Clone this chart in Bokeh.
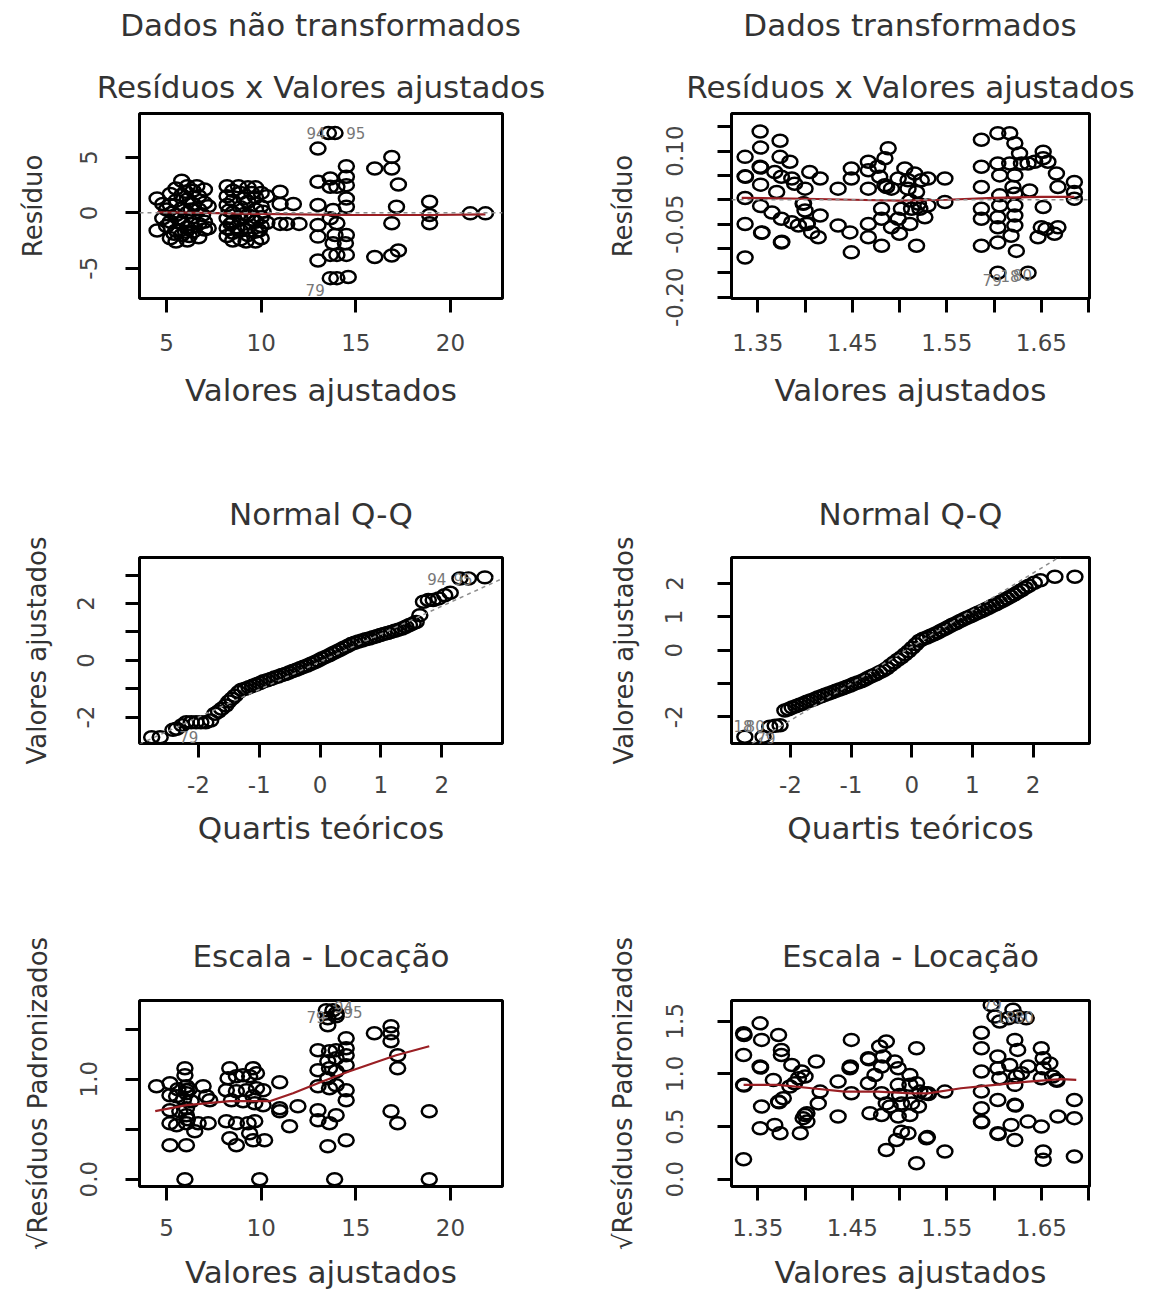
from bokeh.plotting import figure
from bokeh.models import Range1d, FixedTicker, Div, Span
from bokeh.layouts import column, row
from bokeh.embed import file_html
from bokeh.resources import INLINE
from bokeh.core.properties import value

FONT = "DejaVu Sans"

# ---------------- data ----------------
header_left = "Dados não transformados"
header_right = "Dados transformados"

# Panel 1: residuals vs fitted (untransformed)
rv1_points = [
    (4.5, 1.3), (4.5, -1.6), (5.0, 0.3), (5.0, -1.2), (5.2, 1.7), (5.2, 0.7), (5.2, -0.8), (5.2, -2.3),
    (5.5, 2.2), (5.5, 1.1), (5.5, -0.2), (5.5, -1.6), (5.5, -2.6), (5.8, 2.9), (5.8, 1.6), (5.8, 0.4),
    (5.8, -0.9), (5.8, -2.0), (6.1, 2.4), (6.1, 1.2), (6.1, 0.0), (6.1, -1.3), (6.1, -2.5), (6.4, 2.0),
    (6.4, 0.8), (6.4, -0.4), (6.4, -1.7), (6.7, 1.5), (6.7, 0.3), (6.7, -1.0), (6.7, -2.2), (7.0, 2.1),
    (7.0, 0.9), (7.0, -0.8), (7.0, -1.5), (7.2, 0.6), (7.2, -1.4),
    (4.8, 0.8), (4.8, -0.5), (5.3, 0.0), (5.7, -0.5), (6.0, 1.9), (6.0, -1.7), (6.3, 0.3), (6.3, -1.0),
    (6.6, 2.4), (6.9, -0.2), (6.2, -2.1), (5.4, -1.9),
    (8.2, 2.4), (8.2, 1.5), (8.2, 0.7), (8.2, -0.5), (8.2, -1.4), (8.2, -2.1), (8.5, 2.0), (8.5, 1.1),
    (8.5, 0.0), (8.5, -0.9), (8.5, -1.8), (8.5, -2.5), (8.9, 1.8), (8.9, 0.5), (8.9, -0.6), (8.9, -1.6),
    (8.9, -2.4), (9.3, 2.3), (9.3, 1.0), (9.3, -0.2), (9.3, -1.3), (9.3, -2.0), (9.7, 2.3), (9.7, 1.4),
    (9.7, 0.3), (9.7, -0.8), (9.7, -1.7), (9.7, -2.6), (10.0, 1.8), (10.0, 0.6), (10.0, -0.4),
    (10.0, -1.2), (10.0, -2.3), (10.3, 1.5), (10.3, -0.9),
    (8.3, 0.2), (8.7, -1.3), (8.8, 2.4), (9.1, 1.3), (9.1, -0.1), (9.5, -0.6), (9.5, 1.8), (9.9, -1.6),
    (10.1, 0.1), (9.2, -2.6), (8.4, -1.0),
    (11.0, 1.9), (11.0, 0.8), (11.0, -1.0), (11.35, -1.0), (11.7, 0.8), (12.0, -1.0),
    (13.55, 7.2), (13.9, 7.2), (13.0, 5.8), (13.0, 2.8), (13.65, 3.1), (13.65, 2.35), (14.0, 2.35),
    (14.5, 4.2), (14.5, 3.25), (14.5, 2.5), (14.5, 1.3), (13.0, 0.7), (13.8, 0.25), (14.5, 0.55),
    (13.65, -0.5), (13.0, -1.1), (14.0, -0.95), (13.0, -2.15), (13.9, -2.0), (14.5, -2.0),
    (13.8, -2.75), (14.45, -2.75), (13.65, -3.8), (14.0, -3.8), (14.5, -3.8), (13.0, -4.3),
    (13.65, -5.9), (14.0, -5.9), (14.6, -5.8),
    (16.0, 4.0), (16.9, 5.05), (16.9, 4.0), (17.25, 2.55), (17.15, 0.55), (16.9, -0.95),
    (16.0, -4.0), (16.9, -3.85), (17.25, -3.4),
    (18.9, 1.0), (18.9, -0.2), (18.9, -0.95), (21.05, -0.05), (21.85, -0.05),
]
rv1_smooth_x = [4.5, 7.0, 10.0, 12.0, 14.0, 16.0, 19.0, 21.85]
rv1_smooth_y = [0.05, 0.0, -0.1, -0.15, -0.2, -0.2, -0.2, -0.15]
rv1_labels = [("94", 12.9, 7.2), ("95", 15.0, 7.2), ("79", 12.85, -7.0)]

# Panel 2: residuals vs fitted (transformed)
rv2_points = [
    (1.3366, 0.088), (1.3366, 0.048), (1.3370, 0.047), (1.3366, 0.0034), (1.3366, -0.0497),
    (1.3366, -0.1186), (1.3525, 0.140), (1.353, 0.107), (1.3525, 0.0676), (1.3530, 0.066),
    (1.353, 0.031), (1.353, -0.013), (1.354, -0.068), (1.3545, -0.067), (1.3736, 0.121),
    (1.3736, 0.088), (1.368, 0.057), (1.375, 0.047), (1.370, 0.016), (1.365, -0.026), (1.375, -0.039),
    (1.375, -0.0876), (1.3755, -0.086), (1.384, 0.078), (1.386, 0.0434), (1.389, 0.033),
    (1.386, -0.046), (1.393, -0.053), (1.400, 0.0228), (1.398, -0.0083), (1.3985, -0.007),
    (1.400, -0.022), (1.405, 0.057), (1.402, -0.0497), (1.4025, -0.048), (1.407, -0.067),
    (1.416, 0.0434), (1.416, -0.0324), (1.414, -0.077),
    (1.435, 0.0228), (1.435, -0.053), (1.449, 0.064), (1.449, 0.0434), (1.4475, -0.067),
    (1.449, -0.108), (1.467, 0.078), (1.467, 0.0607), (1.467, 0.0228), (1.467, -0.0497),
    (1.467, -0.077), (1.477, 0.0676), (1.479, 0.047), (1.4845, 0.0297), (1.4863, 0.026),
    (1.481, -0.0186), (1.481, -0.039), (1.481, -0.0945), (1.488, 0.1055), (1.4845, 0.085),
    (1.4915, 0.0228), (1.4986, 0.0434), (1.4986, -0.039), (1.500, -0.070), (1.4915, -0.0566),
    (1.5056, 0.064), (1.509, 0.040), (1.509, 0.0228), (1.511, -0.0014), (1.5127, -0.0186),
    (1.511, -0.0497), (1.502, -0.0186), (1.516, 0.054), (1.518, 0.016), (1.520, -0.0083),
    (1.5215, -0.0186), (1.523, 0.040), (1.5268, -0.036), (1.530, 0.0434), (1.530, -0.0117),
    (1.518, -0.0945), (1.548, 0.0434), (1.548, -0.0048),
    (1.5866, 0.123), (1.604, 0.1366), (1.6166, 0.1366), (1.622, 0.116), (1.627, 0.095),
    (1.5866, 0.0676), (1.5866, 0.026), (1.5866, -0.0186), (1.5866, -0.039), (1.5866, -0.0945),
    (1.604, 0.0745), (1.606, 0.050), (1.606, 0.009), (1.606, -0.0117), (1.604, -0.036),
    (1.604, -0.0566), (1.604, -0.0876), (1.6166, 0.0745), (1.622, 0.050), (1.620, 0.026),
    (1.622, 0.0124), (1.622, -0.0117), (1.622, -0.0324), (1.622, -0.053), (1.618, -0.074),
    (1.6236, -0.105), (1.629, 0.0745), (1.636, 0.0745), (1.6377, 0.019), (1.643, 0.078),
    (1.652, 0.0986), (1.652, 0.085), (1.657, 0.078), (1.666, 0.054), (1.6676, 0.026),
    (1.652, -0.015), (1.650, -0.0566), (1.6465, -0.077), (1.655, -0.060), (1.6676, -0.0566),
    (1.664, -0.070), (1.685, 0.0366), (1.685, 0.016), (1.685, 0.002), (1.604, -0.1497),
    (1.636, -0.1497),
]
rv2_smooth_x = [1.333, 1.40, 1.45, 1.50, 1.55, 1.60, 1.65, 1.685]
rv2_smooth_y = [0.004, 0.002, 0.0, -0.002, 0.0, 0.004, 0.006, 0.006]
rv2_labels = [("79", 1.598, -0.165), ("18", 1.617, -0.157), ("80", 1.630, -0.155)]

# Panel 3: normal Q-Q (untransformed)
qq1_points = [
    (-2.77, -2.71), (-2.63, -2.71), (-2.42, -2.45), (-2.36, -2.41), (-2.27, -2.29), (-2.20, -2.18),
    (-2.12, -2.18), (-2.04, -2.18), (-1.96, -2.18), (-1.88, -2.18), (-1.80, -2.12), (-1.73, -1.88),
    (-1.67, -1.80), (-1.62, -1.71), (-1.55, -1.59), (-1.50, -1.45), (-1.45, -1.35), (-1.40, -1.25),
    (-1.34, -1.12), (-1.29, -1.04), (-1.23, -1.00), (-1.17, -0.95), (-1.11, -0.90), (-1.05, -0.85),
    (-0.99, -0.80), (-0.93, -0.74), (-0.87, -0.70), (-0.81, -0.66), (-0.75, -0.61), (-0.69, -0.57),
    (-0.63, -0.52), (-0.57, -0.48), (-0.51, -0.43), (-0.45, -0.38), (-0.39, -0.33), (-0.33, -0.28),
    (-0.27, -0.23), (-0.21, -0.18), (-0.15, -0.12), (-0.09, -0.07), (-0.03, -0.01), (0.03, 0.06),
    (0.09, 0.12), (0.15, 0.18), (0.21, 0.25), (0.27, 0.31), (0.33, 0.37), (0.39, 0.44), (0.45, 0.50),
    (0.51, 0.57), (0.57, 0.62), (0.63, 0.66), (0.69, 0.70), (0.75, 0.74), (0.81, 0.77), (0.87, 0.81),
    (0.93, 0.85), (0.99, 0.89), (1.05, 0.93), (1.11, 0.96), (1.17, 1.00), (1.23, 1.04), (1.29, 1.08),
    (1.35, 1.12), (1.41, 1.18), (1.47, 1.24), (1.53, 1.30), (1.58, 1.35), (1.64, 1.59), (1.70, 2.06),
    (1.78, 2.12), (1.86, 2.12), (1.95, 2.18), (2.05, 2.29), (2.14, 2.38), (2.30, 2.88), (2.44, 2.88),
    (2.71, 2.92),
]
qq1_line_x = [-2.97, 3.0]
qq1_line_y = [-2.95, 2.88]
qq1_labels = [("94", 1.92, 2.88), ("95", 2.35, 2.88), ("79", -2.16, -2.69)]

# Panel 4: normal Q-Q (transformed)
qq2_points = [
    (-2.75, -2.60), (-2.45, -2.60), (-2.34, -2.30), (-2.25, -2.27), (-2.17, -2.25), (-2.09, -1.81),
    (-2.03, -1.77), (-1.97, -1.72), (-1.91, -1.68), (-1.85, -1.64), (-1.79, -1.60), (-1.73, -1.55),
    (-1.67, -1.51), (-1.61, -1.47), (-1.55, -1.42), (-1.49, -1.38), (-1.43, -1.34), (-1.37, -1.30),
    (-1.31, -1.26), (-1.25, -1.22), (-1.19, -1.18), (-1.13, -1.14), (-1.07, -1.10), (-1.01, -1.06),
    (-0.95, -1.01), (-0.89, -0.97), (-0.83, -0.93), (-0.77, -0.88), (-0.71, -0.82), (-0.65, -0.77),
    (-0.59, -0.72), (-0.53, -0.66), (-0.47, -0.61), (-0.41, -0.54), (-0.35, -0.45), (-0.29, -0.37),
    (-0.23, -0.29), (-0.17, -0.21), (-0.11, -0.12), (-0.05, -0.03), (0.01, 0.07), (0.07, 0.18),
    (0.13, 0.28), (0.19, 0.34), (0.25, 0.38), (0.31, 0.43), (0.37, 0.48), (0.43, 0.53), (0.49, 0.59),
    (0.55, 0.64), (0.61, 0.70), (0.67, 0.76), (0.73, 0.81), (0.79, 0.87), (0.85, 0.92), (0.91, 0.97),
    (0.97, 1.02), (1.03, 1.07), (1.09, 1.12), (1.15, 1.17), (1.21, 1.22), (1.27, 1.27), (1.33, 1.33),
    (1.39, 1.38), (1.45, 1.44), (1.51, 1.49), (1.57, 1.55), (1.63, 1.61), (1.69, 1.67), (1.75, 1.74),
    (1.81, 1.80), (1.87, 1.87), (1.93, 1.93), (2.02, 2.02), (2.12, 2.10), (2.36, 2.20), (2.69, 2.20),
]
qq2_line_x = [-2.97, 2.93]
qq2_line_y = [-3.18, 3.34]
qq2_labels = [("18", -2.78, -2.27), ("80", -2.58, -2.27), ("79", -2.4, -2.62)]

# Panel 5: scale-location (untransformed)
sl1_points = [
    (5.97, 0.0), (9.92, 0.0), (13.88, 0.0), (18.88, 0.0),
    (5.97, 1.11), (5.97, 1.04), (5.18, 0.96), (4.47, 0.93), (5.18, 0.84), (5.53, 0.83), (6.05, 0.93),
    (6.05, 0.86), (6.05, 0.89), (6.2, 0.9), (6.93, 0.93), (7.11, 0.83), (7.28, 0.79), (5.18, 0.69),
    (5.70, 0.68), (6.05, 0.71), (6.05, 0.64), (6.1, 0.6), (5.18, 0.56), (5.53, 0.54), (6.05, 0.56),
    (6.49, 0.48), (6.67, 0.56), (7.20, 0.56), (5.18, 0.34), (6.05, 0.34), (5.9, 0.8), (6.3, 0.78),
    (5.6, 0.9),
    (8.34, 1.11), (9.57, 1.11), (8.25, 1.01), (8.69, 1.03), (9.04, 1.04), (9.39, 1.03), (9.75, 1.06),
    (8.16, 0.89), (8.69, 0.88), (9.22, 0.89), (9.75, 0.91), (10.1, 0.89), (8.43, 0.79), (9.04, 0.78),
    (9.66, 0.76), (10.1, 0.74), (9.57, 0.83), (8.16, 0.58), (8.69, 0.56), (9.31, 0.56), (9.66, 0.58),
    (8.34, 0.41), (8.69, 0.34), (9.39, 0.46), (9.57, 0.39), (10.18, 0.39),
    (10.98, 0.97), (10.98, 0.71), (10.98, 0.68), (11.94, 0.73), (11.5, 0.53),
    (13.44, 1.69), (13.79, 1.69), (13.96, 1.66), (13.52, 1.61), (13.96, 1.63), (13.52, 1.54),
    (14.49, 1.41), (14.49, 1.31), (14.49, 1.24), (13.0, 1.29), (13.61, 1.28), (13.96, 1.29),
    (13.96, 1.21), (13.52, 1.18), (14.49, 1.14), (13.0, 1.09), (13.61, 1.11), (13.96, 1.08),
    (13.52, 1.01), (13.0, 0.93), (13.96, 0.94), (13.61, 0.91), (14.49, 0.89), (14.49, 0.79),
    (13.0, 0.69), (13.0, 0.59), (13.96, 0.64), (13.61, 0.56), (13.52, 0.33), (14.49, 0.39),
    (15.98, 1.46), (16.86, 1.53), (16.86, 1.46), (16.86, 1.38), (17.21, 1.24), (17.21, 1.11),
    (16.86, 0.68), (17.21, 0.56), (18.88, 0.68),
]
sl1_smooth_x = [4.4, 6.05, 8.34, 10.45, 11.68, 13.26, 14.67, 17.13, 18.88]
sl1_smooth_y = [0.68, 0.74, 0.78, 0.78, 0.86, 0.98, 1.08, 1.24, 1.33]
sl1_labels = [("79", 12.9, 1.62), ("94", 14.35, 1.72), ("95", 14.85, 1.67)]

# Panel 6: scale-location (transformed)
sl2_points = [
    (1.335, 1.386), (1.3355, 1.37), (1.335, 1.18), (1.335, 0.896), (1.3355, 0.89), (1.335, 0.19),
    (1.3525, 1.48), (1.354, 1.323), (1.3525, 1.07), (1.353, 1.06), (1.354, 0.69), (1.3525, 0.484),
    (1.3665, 0.943), (1.372, 1.37), (1.375, 1.228), (1.375, 1.18), (1.368, 0.516), (1.3736, 0.437),
    (1.372, 0.737), (1.3725, 0.73), (1.377, 0.769), (1.384, 0.88), (1.386, 1.085), (1.389, 0.911),
    (1.393, 0.959), (1.3965, 1.022), (1.400, 0.975), (1.398, 0.58), (1.400, 0.61), (1.402, 0.627),
    (1.402, 0.547), (1.395, 0.437), (1.412, 1.117), (1.414, 0.72), (1.416, 0.832),
    (1.435, 0.927), (1.449, 1.323), (1.4475, 1.054), (1.448, 1.07), (1.435, 0.595), (1.449, 0.816),
    (1.467, 1.149), (1.4675, 1.14), (1.467, 0.911), (1.4687, 0.627), (1.474, 0.99), (1.479, 1.26),
    (1.481, 0.816), (1.481, 0.61), (1.481, 1.07), (1.4827, 1.165), (1.486, 1.307), (1.49, 0.69),
    (1.486, 0.72), (1.495, 1.117), (1.4986, 1.054), (1.4986, 0.896), (1.4986, 0.595), (1.500, 0.80),
    (1.502, 0.72), (1.502, 0.452), (1.511, 0.99), (1.511, 0.896), (1.5127, 0.72), (1.511, 0.61),
    (1.518, 1.244), (1.518, 0.911), (1.52, 0.69), (1.5215, 0.832), (1.527, 0.816), (1.530, 0.816),
    (1.5305, 0.81), (1.486, 0.278), (1.4968, 0.373), (1.509, 0.437), (1.5285, 0.389), (1.5295, 0.40),
    (1.518, 0.152), (1.548, 0.832), (1.548, 0.263),
    (1.5866, 1.39), (1.5866, 1.244), (1.5866, 1.022), (1.5866, 0.832), (1.5866, 0.674),
    (1.5866, 0.547), (1.587, 0.54), (1.604, 1.165), (1.604, 1.054), (1.606, 0.959), (1.604, 0.753),
    (1.604, 0.437), (1.6045, 0.43), (1.6166, 1.085), (1.618, 0.516), (1.622, 1.323), (1.625, 1.228),
    (1.6236, 0.975), (1.622, 0.896), (1.622, 0.706), (1.6225, 0.70), (1.622, 0.373), (1.629, 1.006),
    (1.636, 1.07), (1.636, 0.547), (1.65, 1.244), (1.652, 1.149), (1.652, 1.054), (1.65, 0.959),
    (1.65, 0.50), (1.659, 1.10), (1.662, 0.975), (1.666, 0.943), (1.6665, 0.935), (1.6676, 0.595),
    (1.685, 0.753), (1.685, 0.58), (1.685, 0.215), (1.652, 0.263), (1.652, 0.184),
    (1.597, 1.655), (1.601, 1.544), (1.606, 1.497), (1.615, 1.528), (1.625, 1.544), (1.634, 1.528),
    (1.620, 1.61),
]
sl2_smooth_x = [1.335, 1.372, 1.407, 1.442, 1.477, 1.513, 1.530, 1.565, 1.601, 1.636, 1.671, 1.687]
sl2_smooth_y = [0.896, 0.896, 0.864, 0.832, 0.832, 0.816, 0.816, 0.864, 0.896, 0.927, 0.95, 0.943]
sl2_labels = [("79", 1.598, 1.66), ("18", 1.612, 1.545), ("80", 1.632, 1.545)]

# axis ticks and labels
x_ticks_raw = [5, 10, 15, 20]
x_labels_raw = ["5", "10", "15", "20"]
x_ticks_log = [1.35, 1.4, 1.45, 1.5, 1.55, 1.6, 1.65, 1.7]
x_labels_log = ["1.35", "", "1.45", "", "1.55", "", "1.65", ""]
x_ticks_qq = [-2, -1, 0, 1, 2]
x_labels_qq = ["-2", "-1", "0", "1", "2"]

y_ticks_p1 = [-5, 0, 5]
y_labels_p1 = ["-5", "0", "5"]
y_ticks_p2 = [-0.2, -0.15, -0.1, -0.05, 0, 0.05, 0.1, 0.15]
y_labels_p2 = ["-0.20", "", "", "-0.05", "", "", "0.10", ""]
y_ticks_p3 = [-2, -1, 0, 1, 2, 3]
y_labels_p3 = ["-2", "", "0", "", "2", ""]
y_ticks_p4 = [-2, -1, 0, 1, 2]
y_labels_p4 = ["-2", "", "0", "1", "2"]
y_ticks_p5 = [0, 0.5, 1, 1.5]
y_labels_p5 = ["0.0", "", "1.0", ""]
y_ticks_p6 = [0, 0.5, 1, 1.5]
y_labels_p6 = ["0.0", "0.5", "1.0", "1.5"]

# ---------------- helpers ----------------
COL_W = 583
TITLE_SIZE = "31px"


def make_panel(height, fl, ft, fw, fh, xr, yr, title, title_standoff,
               xt, xl, yt, yl, xlabel, ylabel,
               x_std, x_als, y_std, y_als):
    p = figure(width=COL_W, height=height,
               x_range=Range1d(*xr), y_range=Range1d(*yr),
               output_backend="svg", toolbar_location=None,
               min_border_left=fl, min_border_right=COL_W - fl - fw,
               min_border_top=ft, min_border_bottom=height - ft - fh,
               background_fill_color="white", border_fill_color="white",
               outline_line_color="black", outline_line_width=3,
               title=title)
    p.title.align = "center"
    p.title.text_font = FONT
    p.title.text_font_size = TITLE_SIZE
    p.title.text_font_style = "normal"
    p.title.text_color = "#333333"
    p.title.standoff = title_standoff
    p.grid.visible = False

    xa = p.xaxis[0]
    ya = p.yaxis[0]
    xa.ticker = FixedTicker(ticks=xt)
    xa.major_label_overrides = {t: l for t, l in zip(xt, xl)}
    ya.ticker = FixedTicker(ticks=yt)
    ya.major_label_overrides = {t: l for t, l in zip(yt, yl)}
    for ax in (xa, ya):
        ax.axis_line_color = None
        ax.major_tick_out = 14
        ax.major_tick_in = 0
        ax.major_tick_line_width = 3
        ax.major_tick_line_color = "black"
        ax.minor_tick_line_color = None
        ax.major_label_text_font = FONT
        ax.major_label_text_font_size = "23px"
        ax.major_label_text_color = "#444444"
        ax.axis_label_text_font = FONT
        ax.axis_label_text_font_style = "normal"
        ax.axis_label_text_color = "#333333"
    xa.axis_label = xlabel
    ya.axis_label = ylabel
    xa.axis_label_text_font_size = TITLE_SIZE
    ya.axis_label_text_font_size = "26px"
    ya.major_label_orientation = "vertical"
    xa.major_label_standoff = x_std
    xa.axis_label_standoff = x_als
    ya.major_label_standoff = y_std
    ya.axis_label_standoff = y_als
    return p


def add_points(p, pts):
    xs = [a for a, b in pts]
    ys = [b for a, b in pts]
    p.ellipse(x=xs, y=ys, width=15, height=12, width_units="screen", height_units="screen",
              fill_color=None, line_color="black", line_width=2.5)


def add_labels(p, labels):
    p.text(x=[l[1] for l in labels], y=[l[2] for l in labels], text=[l[0] for l in labels],
           text_font=value(FONT), text_font_size=value("15px"), text_color="#777777",
           text_align="center", text_baseline="middle")


SMOOTH = "#9a1f24"
REFGRAY = "#8c8c8c"

# ---------------- panels ----------------
# Row 1
p1 = make_panel(384, 139, 57, 363, 185, (3.57, 22.75), (-7.74, 8.97),
                "Resíduos x Valores ajustados", 17,
                x_ticks_raw, x_labels_raw, y_ticks_p1, y_labels_p1,
                "Valores ajustados", "Resíduo", 21, 18, 28, 30)
p1.add_layout(Span(location=0, dimension="width", line_color=REFGRAY, line_dash="4 4", line_width=1.5))
add_points(p1, rv1_points)
p1.line(rv1_smooth_x, rv1_smooth_y, line_color=SMOOTH, line_width=2.2)
add_labels(p1, rv1_labels)

p2 = make_panel(384, 148, 57, 358, 185, (1.3222, 1.701), (-0.2027, 0.177),
                "Resíduos x Valores ajustados", 17,
                x_ticks_log, x_labels_log, y_ticks_p2, y_labels_p2,
                "Valores ajustados", "Resíduo", 21, 18, 34, 26)
p2.add_layout(Span(location=0, dimension="width", line_color=REFGRAY, line_dash="4 4", line_width=1.5))
add_points(p2, rv2_points)
p2.line(rv2_smooth_x, rv2_smooth_y, line_color=SMOOTH, line_width=2.2)
add_labels(p2, rv2_labels)

# Row 2
p3 = make_panel(440, 139, 117, 363, 186, (-2.97, 3.0), (-2.93, 3.62),
                "Normal Q-Q", 51,
                x_ticks_qq, x_labels_qq, y_ticks_p3, y_labels_p3,
                "Quartis teóricos", "Valores ajustados", 18, 14, 31, 23)
add_points(p3, qq1_points)
p3.line(qq1_line_x, qq1_line_y, line_color=REFGRAY, line_dash="4 4", line_width=1.5)
add_labels(p3, qq1_labels)

p4 = make_panel(440, 148, 117, 358, 186, (-2.97, 2.93), (-2.80, 2.78),
                "Normal Q-Q", 51,
                x_ticks_qq, x_labels_qq, y_ticks_p4, y_labels_p4,
                "Quartis teóricos", "Valores ajustados", 18, 14, 35, 24)
add_points(p4, qq2_points)
p4.line(qq2_line_x, qq2_line_y, line_color=REFGRAY, line_dash="4 4", line_width=1.5)
add_labels(p4, qq2_labels)

# Row 3
p5 = make_panel(415, 139, 120, 363, 186, (3.57, 22.75), (-0.073, 1.787),
                "Escala - Locação", 53,
                x_ticks_raw, x_labels_raw, y_ticks_p5, y_labels_p5,
                "Valores ajustados", "√Resíduos Padronizados", 18, 15, 28, 25)
add_points(p5, sl1_points)
p5.line(sl1_smooth_x, sl1_smooth_y, line_color=SMOOTH, line_width=2.2)
add_labels(p5, sl1_labels)

p6 = make_panel(415, 148, 120, 358, 186, (1.3222, 1.701), (-0.069, 1.697),
                "Escala - Locação", 53,
                x_ticks_log, x_labels_log, y_ticks_p6, y_labels_p6,
                "Valores ajustados", "√Resíduos Padronizados", 18, 15, 34, 26)
add_points(p6, sl2_points)
p6.line(sl2_smooth_x, sl2_smooth_y, line_color=SMOOTH, line_width=2.2)
add_labels(p6, sl2_labels)


# Headers
def header(text, pad_left):
    html = ('<div style="box-sizing:border-box;width:%dpx;padding-left:%dpx;text-align:center;'
            'font-family:\'DejaVu Sans\';font-size:%s;color:#333333;line-height:50px;'
            'white-space:nowrap;">%s</div>' % (COL_W, pad_left, TITLE_SIZE, text))
    return Div(text=html, width=COL_W, height=56, margin=(0, 0, 0, 0))


h1 = header(header_left, 58)
h2 = header(header_right, 71)

layout = column(row(h1, h2), row(p1, p2), row(p3, p4), row(p5, p6))

with open("out.html", "w") as f:
    f.write(file_html(layout, INLINE))
